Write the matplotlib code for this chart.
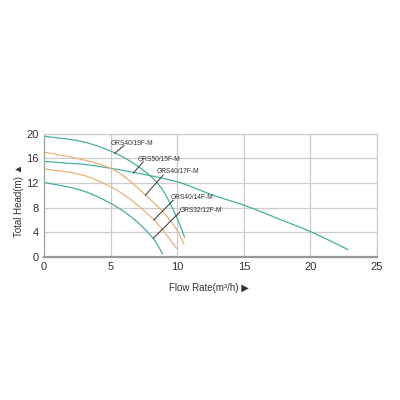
import matplotlib
matplotlib.use("Agg")
import matplotlib.pyplot as plt
import numpy as np

plt.rcParams['font.family'] = ['Liberation Sans', 'DejaVu Sans']

teal = '#45b0a0'
orange = '#e8b27a'

# pump curves: flow (m3/h), head (m)
q_19f = [0, 2.5, 5, 7.5, 8.7, 9.95, 10.55]
h_19f = [19.6, 18.9, 17.2, 14.0, 11.5, 6.5, 3.2]

q_15f = [0, 2.7, 5, 7.5, 10, 12.7, 15, 17.7, 20, 22.8]
h_15f = [15.5, 15.1, 14.4, 13.4, 12.2, 10.0, 8.4, 6.1, 4.1, 1.2]

q_17f = [0, 2.5, 5, 7.6, 10, 10.5]
h_17f = [17.0, 16.0, 14.4, 10.1, 4.3, 2.1]

q_14f = [0, 2.5, 5, 8.25, 9.95]
h_14f = [14.3, 13.5, 11.4, 6.0, 1.4]

q_12f = [0, 2.5, 5, 8.2, 8.9]
h_12f = [12.1, 11.0, 8.7, 3.0, 0.5]

names = ['GRS40/19F-M', 'GRS50/15F-M', 'GRS40/17F-M', 'GRS40/14F-M', 'GRS32/12F-M']
# leader line: point on curve -> text anchor
lead_from = [(5.3, 16.8), (6.7, 13.6), (7.6, 10.0), (8.25, 6.0), (8.2, 3.0)]
lead_to = [(6.0, 18.1), (7.45, 15.45), (8.95, 13.3), (9.7, 9.2), (10.2, 7.3)]
text_at = [(5.0, 18.5), (7.0, 15.9), (8.45, 13.9), (9.5, 9.6), (10.2, 7.6)]


def pchip(q, h, n=200):
    # Fritsch-Carlson monotone cubic through the read points
    x = np.array(q, float); y = np.array(h, float)
    dx = np.diff(x); d = np.diff(y) / dx
    m = np.zeros_like(y)
    m[0], m[-1] = d[0], d[-1]
    for i in range(1, len(x) - 1):
        if d[i - 1] * d[i] > 0:
            w1 = 2 * dx[i] + dx[i - 1]; w2 = dx[i] + 2 * dx[i - 1]
            m[i] = (w1 + w2) / (w1 / d[i - 1] + w2 / d[i])
    xx = np.linspace(x[0], x[-1], n)
    k = np.clip(np.searchsorted(x, xx) - 1, 0, len(x) - 2)
    t = (xx - x[k]) / dx[k]
    h00 = 2*t**3 - 3*t**2 + 1; h10 = t**3 - 2*t**2 + t
    h01 = -2*t**3 + 3*t**2; h11 = t**3 - t**2
    yy = h00*y[k] + h10*dx[k]*m[k] + h01*y[k+1] + h11*dx[k]*m[k+1]
    return xx, yy


fig = plt.figure(figsize=(4, 4), dpi=100)
ax = fig.add_axes([0.11, 0.358, 0.8325, 0.3075])

for q, h, col in [(q_19f, h_19f, teal), (q_15f, h_15f, teal), (q_17f, h_17f, orange),
                  (q_14f, h_14f, orange), (q_12f, h_12f, teal)]:
    qq, hh = pchip(q, h)
    ax.plot(qq, hh, color=col, lw=0.9)

for n, a, b, t in zip(names, lead_from, lead_to, text_at):
    ax.plot([a[0], b[0]], [a[1], b[1]], color='#333333', lw=0.7)
    ax.text(t[0], t[1], n, fontsize=4.8, color='#333333', va='center', ha='left')

ax.set_xlim(0, 25)
ax.set_ylim(0, 20)
ax.set_xticks([0, 5, 10, 15, 20, 25])
ax.set_yticks([0, 4, 8, 12, 16, 20])
ax.grid(True, color='#cccccc', lw=0.9)
ax.tick_params(length=0, labelsize=8, colors='#333333', pad=4)
for s in ['top', 'right']:
    ax.spines[s].set_color('#cccccc')
    ax.spines[s].set_linewidth(0.9)
ax.spines['left'].set_color('#999999')
ax.spines['bottom'].set_color('#999999')
ax.spines['bottom'].set_linewidth(1.6)
ax.set_axisbelow(True)

fig.text(0.048, 0.5, 'Total Head(m) \u25B2', rotation=90, fontsize=7,
         color='#333333', ha='center', va='center')
fig.text(0.523, 0.28, 'Flow Rate(m\u00b3/h) \u25B6', fontsize=7,
         color='#333333', ha='center', va='center')

fig.savefig('out.png')
